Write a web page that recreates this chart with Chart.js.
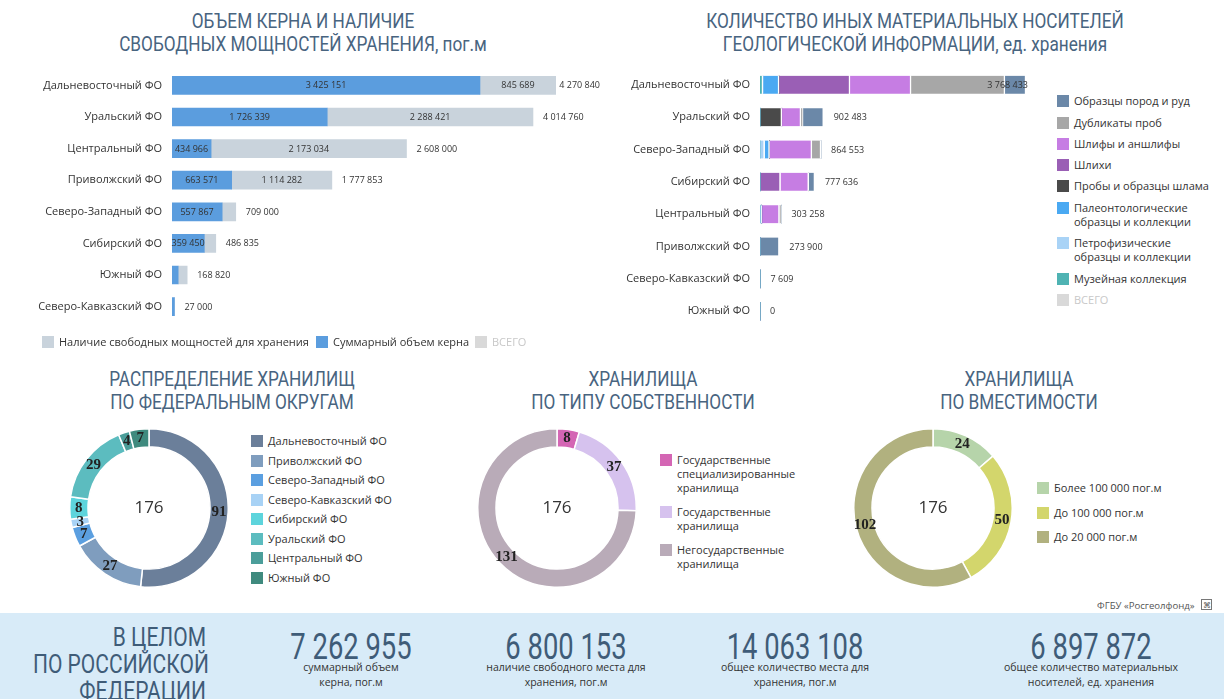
<!DOCTYPE html>
<html><head><meta charset="utf-8">
<script src="https://cdn.jsdelivr.net/npm/chart.js@4.4.1/dist/chart.umd.min.js"></script>
<style>
html,body{margin:0;padding:0;background:#fff;width:1224px;height:699px;overflow:hidden;position:relative;font-family:"Open Sans",sans-serif;color:#333}
.abs{position:absolute}
.cond{font-family:Roboto,"Open Sans",sans-serif}
.title{color:#48647f;font-size:20px;text-align:center;line-height:23px;white-space:nowrap;transform:scaleX(0.86);transform-origin:50% 0;width:600px}
.leg{font-size:11px;color:#333;line-height:14px;white-space:nowrap}
.leg .it{position:absolute;padding-left:17px}
.leg .bx{position:absolute;left:0;top:1px;width:12px;height:12px}
canvas{position:absolute}
.band{left:0;top:613px;width:1224px;height:86px;background:#d8ebf8}
.big{color:#3f5c78;font-size:37px;line-height:40px;text-align:center;white-space:nowrap;transform:scaleX(0.74);transform-origin:50% 0}
.sub{font-size:10.5px;color:#333;text-align:center;line-height:15px;white-space:nowrap}
</style></head><body>

<div class="abs cond title" style="left:3px;top:10px">ОБЪЕМ КЕРНА И НАЛИЧИЕ<br>СВОБОДНЫХ МОЩНОСТЕЙ ХРАНЕНИЯ, пог.м</div>
<div class="abs cond title" style="left:615px;top:10px">КОЛИЧЕСТВО ИНЫХ МАТЕРИАЛЬНЫХ НОСИТЕЛЕЙ<br>ГЕОЛОГИЧЕСКОЙ ИНФОРМАЦИИ, ед. хранения</div>
<div class="abs cond title" style="left:-68px;top:368px">РАСПРЕДЕЛЕНИЕ ХРАНИЛИЩ<br>ПО ФЕДЕРАЛЬНЫМ ОКРУГАМ</div>
<div class="abs cond title" style="left:343px;top:368px">ХРАНИЛИЩА<br>ПО ТИПУ СОБСТВЕННОСТИ</div>
<div class="abs cond title" style="left:719px;top:368px">ХРАНИЛИЩА<br>ПО ВМЕСТИМОСТИ</div>

<canvas id="c1" style="left:0;top:53px" width="600" height="286"></canvas>
<canvas id="c2" style="left:600px;top:52px" width="440" height="292"></canvas>
<canvas id="d1" style="left:69px;top:428px" width="160" height="160"></canvas>
<canvas id="d2" style="left:477px;top:428px" width="160" height="160"></canvas>
<canvas id="d3" style="left:853px;top:428px" width="160" height="160"></canvas>

<div id="leg1" class="abs leg" style="left:42px;top:335px;width:560px;height:16px"></div>
<div id="leg2" class="abs leg" style="left:1057px;top:94px;width:167px;height:220px"></div>
<div id="leg3" class="abs leg" style="left:251px;top:434px;width:170px;height:160px"></div>
<div id="leg4" class="abs leg" style="left:660px;top:453px;width:170px;height:130px"></div>
<div id="leg5" class="abs leg" style="left:1037px;top:481px;width:170px;height:80px"></div>

<div class="abs" style="left:1097px;top:599px;font-size:9.6px;color:#555;white-space:nowrap">ФГБУ «Росгеолфонд»</div>
<div class="abs" style="left:1201px;top:599px;width:9px;height:9px;border:1px solid #777;font-size:8px;line-height:9px;text-align:center;color:#555">⌘</div>

<div class="abs band"></div>
<div class="abs cond" style="left:0;top:624px;width:206px;text-align:right;font-size:25px;line-height:27px;color:#3f5c78;transform:scaleX(0.84);transform-origin:100% 0;white-space:nowrap">В ЦЕЛОМ<br>ПО РОССИЙСКОЙ<br>ФЕДЕРАЦИИ</div>
<div id="kpi"></div>

<script>
// ---------- DATA ----------
const coreRegions = ['Дальневосточный ФО','Уральский ФО','Центральный ФО','Приволжский ФО','Северо-Западный ФО','Сибирский ФО','Южный ФО','Северо-Кавказский ФО'];
const coreVolume   = [3425151,1726339,434966,663571,557867,359450,68611,27000];
const freeCapacity = [845689,2288421,2173034,1114282,151133,127385,100209,0];
const coreTotal    = [4270840,4014760,2608000,1777853,709000,486835,168820,27000];
const coreLegend   = ['Наличие свободных мощностей для хранения','Суммарный объем керна','ВСЕГО'];

const mediaRegions = ['Дальневосточный ФО','Уральский ФО','Северо-Западный ФО','Сибирский ФО','Центральный ФО','Приволжский ФО','Северо-Кавказский ФО','Южный ФО'];
const mediaTypes = ['Образцы пород и руд','Дубликаты проб','Шлифы и аншлифы','Шлихи','Пробы и образцы шлама',['Палеонтологические','образцы и коллекции'],['Петрофизические','образцы и коллекции'],'Музейная коллекция'];
const rocksOres    = [298433,292483,0,87636,0,273900,7609,0];
const duplicates   = [1330000,30000,129553,0,28258,0,0,0];
const thinSections = [865000,270000,600000,400000,250000,0,0,0];
const placers      = [1005000,0,0,290000,0,0,0,0];
const slurry       = [0,310000,0,0,0,0,0,0];
const paleo        = [228000,0,70000,0,0,0,0,0];
const petro        = [0,0,65000,0,25000,0,0,0];
const museum       = [42000,0,0,0,0,0,0,0];
const mediaTotal   = [3768433,902483,864553,777636,303258,273900,7609,0];

const districtLabels = ['Дальневосточный ФО','Приволжский ФО','Северо-Западный ФО','Северо-Кавказский ФО','Сибирский ФО','Уральский ФО','Центральный ФО','Южный ФО'];
const districtCounts = [91,27,7,3,8,29,4,7];
const ownershipLabels = [['Государственные','специализированные','хранилища'],['Государственные','хранилища'],['Негосударственные','хранилища']];
const ownershipCounts = [8,37,131];
const capacityLabels = ['Более 100 000 пог.м','До 100 000 пог.м','До 20 000 пог.м'];
const capacityCounts = [24,50,102];
const storageTotal = 176;

const kpiValues = ['7 262 955','6 800 153','14 063 108','6 897 872'];
const kpiCaptions = [['суммарный объем','керна, пог.м'],['наличие свободного места для','хранения, пог.м'],['общее количество места для','хранения, пог.м'],['общее количество материальных','носителей, ед. хранения']];

// ---------- STYLE ----------
const coreColors = ['#c9d3dc','#5b9dde','#d9d9d9'];
const mediaColors = ['#6b88a8','#a7a7a7','#c67de3','#9a5fb5','#4a4a4a','#4aa9f2','#a9d3f6','#4fb3b3'];
const districtColors = ['#6b7f9a','#7f9dbe','#5b9fe0','#a8d2f5','#5dd4dc','#5cbcbf','#4b9e9a','#3f8a7e'];
const ownershipColors = ['#d466b4','#d6c2ee','#b9abb8'];
const capacityColors = ['#b6d4aa','#d3d66c','#b1b17f'];
const FONT = '"Open Sans", sans-serif';

const fmt = v => String(v).replace(/\B(?=(\d{3})+(?!\d))/g,' ');

function makeLegend(id, labels, colors, positions, extra){
  const el = document.getElementById(id);
  labels.forEach((lab,i)=>{
    const it = document.createElement('div'); it.className='it';
    it.style.left = positions[i][0]+'px'; it.style.top = positions[i][1]+'px';
    const bx = document.createElement('div'); bx.className='bx'; bx.style.background=colors[i];
    it.appendChild(bx);
    const t = document.createElement('span');
    t.innerHTML = (Array.isArray(lab)?lab:[lab]).join('<br>');
    if (extra && extra[i]) Object.assign(t.style, extra[i]);
    it.appendChild(t);
    el.appendChild(it);
  });
}

// ---------- CHART 1 ----------
const c1Labels = {
  id:'c1Labels',
  afterDatasetsDraw(chart){
    const ctx = chart.ctx; ctx.save();
    ctx.font = '9px '+FONT; ctx.fillStyle = '#333'; ctx.textBaseline = 'middle';
    chart.data.datasets.forEach((ds,di)=>{
      const meta = chart.getDatasetMeta(di);
      meta.data.forEach((bar,i)=>{
        const v = ds.data[i]; if(!v) return;
        const w = Math.abs(bar.x-bar.base); const txt = fmt(v);
        if (w >= ctx.measureText(txt).width - 3){ ctx.textAlign='center'; ctx.fillText(txt,(bar.x+bar.base)/2,bar.y+0.5); }
      });
    });
    const xs = chart.scales.x, m0 = chart.getDatasetMeta(0);
    coreTotal.forEach((v,i)=>{
      const txt = fmt(v), tw = ctx.measureText(txt).width;
      let x = xs.getPixelForValue(v)+10; x = Math.min(x, 600-tw);
      ctx.textAlign='left'; ctx.fillText(txt,x,m0.data[i].y+0.5);
    });
    ctx.restore();
  }
};
new Chart(document.getElementById('c1'),{
  type:'bar',
  data:{labels:coreRegions,datasets:[
    {label:coreLegend[1],data:coreVolume,backgroundColor:coreColors[1],stack:'s'},
    {label:coreLegend[0],data:freeCapacity,backgroundColor:coreColors[0],stack:'s'}
  ]},
  options:{indexAxis:'y',responsive:false,animation:false,
    layout:{padding:{left:0,right:44,top:0,bottom:0}},
    datasets:{bar:{barThickness:18,borderWidth:0}},
    plugins:{legend:{display:false},tooltip:{enabled:false}},
    scales:{
      x:{display:false,stacked:true,min:0,max:4270840},
      y:{stacked:true,grid:{display:false,drawTicks:false},border:{display:false},
         ticks:{padding:10,color:'#333',font:{family:FONT,size:11}},
         afterFit(s){s.width=172;}}
    }},
  plugins:[c1Labels]
});
makeLegend('leg1',coreLegend,coreColors,[[0,0],[274,0],[433,0]],[null,null,{color:'#c8c8c8'}]);

// ---------- CHART 2 ----------
const c2Labels = {
  id:'c2Labels',
  afterDatasetsDraw(chart){
    const ctx = chart.ctx; ctx.save();
    ctx.font = '9px '+FONT; ctx.fillStyle = '#333'; ctx.textBaseline='middle'; ctx.textAlign='left';
    const xs = chart.scales.x, m0 = chart.getDatasetMeta(0);
    mediaTotal.forEach((v,i)=>{
      const txt = fmt(v), tw = ctx.measureText(txt).width;
      let x = xs.getPixelForValue(v)+10; x = Math.min(x, 428-tw);
      ctx.fillText(txt,x,m0.data[i].y+0.5);
    });
    ctx.restore();
  }
};
const mediaSeries = [museum,petro,paleo,slurry,placers,thinSections,duplicates,rocksOres];
const mediaIdx = [7,6,5,4,3,2,1,0];
new Chart(document.getElementById('c2'),{
  type:'bar',
  data:{labels:mediaRegions,datasets:mediaSeries.map((d,k)=>({
    label:[].concat(mediaTypes[mediaIdx[k]]).join(' '),data:d,backgroundColor:mediaColors[mediaIdx[k]],stack:'s',
    borderColor:'#ffffff',borderWidth:{left:0,top:0,bottom:0,right:1.5},borderSkipped:false
  }))},
  options:{indexAxis:'y',responsive:false,animation:false,
    layout:{padding:{left:0,right:14,top:0,bottom:0}},
    datasets:{bar:{barThickness:18}},
    plugins:{legend:{display:false},tooltip:{enabled:false}},
    scales:{
      x:{display:false,stacked:true,min:0,max:3768433},
      y:{stacked:true,grid:{display:false,drawTicks:false},border:{display:false},
         ticks:{padding:10,color:'#333',font:{family:FONT,size:11}},
         afterFit(s){s.width=160;}}
    }},
  plugins:[c2Labels]
});
makeLegend('leg2',mediaTypes.concat(['ВСЕГО']),mediaColors.concat(['#d9d9d9']),
  [[0,0],[0,22],[0,43],[0,64],[0,85],[0,107],[0,142],[0,178],[0,199]],
  [null,null,null,null,null,null,null,null,{color:'#c8c8c8'}]);

// ---------- DONUTS ----------
function donutPlugin(total){
  return {
    id:'donutText',
    afterDatasetsDraw(chart){
      const ctx = chart.ctx; ctx.save();
      const meta = chart.getDatasetMeta(0);
      ctx.fillStyle='#222'; ctx.textAlign='center'; ctx.textBaseline='middle';
      ctx.font = 'bold 15px "Liberation Serif", serif';
      meta.data.forEach((arc,i)=>{
        const p = arc.tooltipPosition();
        ctx.fillText(String(chart.data.datasets[0].data[i]),p.x,p.y);
      });
      ctx.font = '17px '+FONT; ctx.fillStyle='#333';
      const a = meta.data[0];
      ctx.fillText(String(total),a.x,a.y);
      ctx.restore();
    }
  };
}
function donut(id,labels,data,colors){
  new Chart(document.getElementById(id),{
    type:'doughnut',
    data:{labels:labels.map(l=>[].concat(l).join(' ')),datasets:[{data:data,backgroundColor:colors,borderColor:'#fff',borderWidth:1.5}]},
    options:{responsive:false,animation:false,cutout:'77%',layout:{padding:0},
      plugins:{legend:{display:false},tooltip:{enabled:false}}},
    plugins:[donutPlugin(storageTotal)]
  });
}
donut('d1',districtLabels,districtCounts,districtColors);
donut('d2',ownershipLabels,ownershipCounts,ownershipColors);
donut('d3',capacityLabels,capacityCounts,capacityColors);
makeLegend('leg3',districtLabels,districtColors,districtLabels.map((l,i)=>[0,Math.round(i*19.5)]));
makeLegend('leg4',ownershipLabels,ownershipColors,[[0,0],[0,52],[0,90]]);
makeLegend('leg5',capacityLabels,capacityColors,[[0,0],[0,24.5],[0,49]]);

// ---------- KPI ----------
const kpiCenters = [351,566,795,1091];
const kpi = document.getElementById('kpi');
kpiValues.forEach((v,i)=>{
  const b = document.createElement('div'); b.className='abs cond big';
  b.style.left=(kpiCenters[i]-120)+'px'; b.style.width='240px'; b.style.top='627px'; b.textContent=v;
  kpi.appendChild(b);
  const s = document.createElement('div'); s.className='abs sub';
  s.style.left=(kpiCenters[i]-120)+'px'; s.style.width='240px'; s.style.top='660px'; s.innerHTML=kpiCaptions[i].join('<br>');
  kpi.appendChild(s);
});
</script>
</body></html>
